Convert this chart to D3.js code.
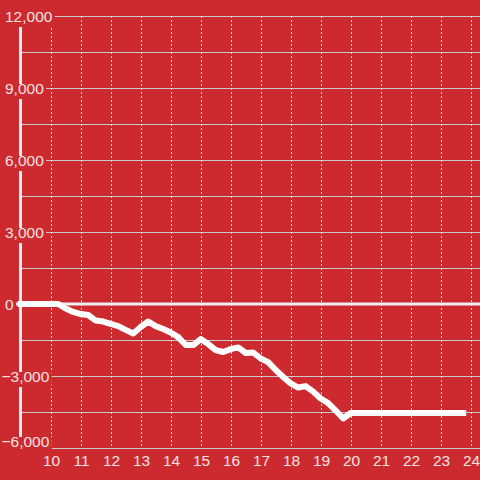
<!DOCTYPE html>
<html>
<head>
<meta charset="utf-8">
<script src="https://cdn.jsdelivr.net/npm/d3@7"></script>
<style>
    html, body { margin: 0; padding: 0; background: #cd2a30; }
    svg { display: block; font-family: "Liberation Sans", Arial, sans-serif; }
</style>
</head>
<body>
<svg id="chart" width="480" height="480"></svg>
<script>
// hours of the day (15 min steps) and running value
const hours = [9, 9.25, 9.5, 9.75, 10, 10.25, 10.5, 10.75, 11, 11.25, 11.5, 11.75,
    12, 12.25, 12.5, 12.75, 13, 13.25, 13.5, 13.75, 14, 14.25, 14.5, 14.75,
    15, 15.25, 15.5, 15.75, 16, 16.25, 16.5, 16.75, 17, 17.25, 17.5, 17.75,
    18, 18.25, 18.5, 18.75, 19, 19.25, 19.5, 19.75, 20, 20.25, 20.5, 20.75,
    21, 21.25, 21.5, 21.75, 22, 22.25, 22.5, 22.75, 23, 23.25, 23.5, 23.75];
const values = [0, 0, 0, 0, 0, 0, -190, -330, -420, -460, -690, -730,
    -830, -920, -1080, -1230, -960, -730, -920, -1040, -1190, -1380, -1710, -1710,
    -1460, -1670, -1920, -2000, -1880, -1810, -2040, -2020, -2270, -2420, -2750, -3040,
    -3310, -3480, -3420, -3650, -3940, -4130, -4440, -4770, -4540, -4540, -4540, -4540,
    -4540, -4540, -4540, -4540, -4540, -4540, -4540, -4540, -4540, -4540, -4540, -4540];
const xTicks = [10, 11, 12, 13, 14, 15, 16, 17, 18, 19, 20, 21, 22, 23, 24];
const yGrid = [-6000, -4500, -3000, -1500, 0, 1500, 3000, 4500, 6000, 7500, 9000, 10500, 12000];
const yLabels = [12000, 9000, 6000, 3000, 0, -3000, -6000];

const bg = "#cd2a30";
const svg = d3.select("#chart");

const x = d3.scaleLinear().domain([9, 24]).range([20.7, 470.7]);
const y = d3.scaleLinear().domain([-6000, 12000]).range([448, 16]);

svg.append("rect").attr("width", 480).attr("height", 480).attr("fill", bg);

// horizontal grid
svg.append("g").selectAll("line")
    .data(yGrid)
    .enter().append("line")
    .attr("x1", 20).attr("x2", 480)
    .attr("y1", d => Math.round(y(d)) + 0.5)
    .attr("y2", d => Math.round(y(d)) + 0.5)
    .attr("stroke", "#c9c9c9")
    .attr("stroke-width", 1);

// vertical dashed grid
svg.append("g").selectAll("line")
    .data(xTicks)
    .enter().append("line")
    .attr("x1", d => Math.round(x(d)) + 0.5)
    .attr("x2", d => Math.round(x(d)) + 0.5)
    .attr("y1", y(12000)).attr("y2", y(-6000))
    .attr("stroke", "#dddddd")
    .attr("stroke-width", 1)
    .attr("stroke-dasharray", "2,2");

// zero line
svg.append("line")
    .attr("x1", 14).attr("x2", 480)
    .attr("y1", y(0)).attr("y2", y(0))
    .attr("stroke", "#eeeeee")
    .attr("stroke-width", 3);

// y axis line
svg.append("line")
    .attr("x1", 20.5).attr("x2", 20.5)
    .attr("y1", y(12000)).attr("y2", y(-6000))
    .attr("stroke", "#eeeeee")
    .attr("stroke-width", 3);

// y labels, each with a patch of background behind it
const fmt = d3.format(",");
const yl = svg.append("g").selectAll("g")
    .data(yLabels)
    .enter().append("g");

yl.append("text")
    .attr("x", d => d < 0 ? 1.5 : 5)
    .attr("y", d => d === -6000 ? y(d) - 1 : y(d) + 6)
    .attr("fill", "#f3e3e3")
    .style("font-size", "15.5px")
    .text(d => fmt(d));

yl.each(function() {
    const t = d3.select(this).select("text");
    const bb = t.node().getBBox();
    d3.select(this).insert("rect", "text")
        .attr("x", bb.x - 2)
        .attr("y", bb.y + 4)
        .attr("width", bb.width + 4)
        .attr("height", bb.height - 2)
        .attr("fill", bg);
});

// x labels
svg.append("g").selectAll("text")
    .data(xTicks)
    .enter().append("text")
    .attr("x", d => x(d) + 0.8)
    .attr("y", 466)
    .attr("text-anchor", "middle")
    .attr("fill", "#f3e3e3")
    .style("font-size", "15.5px")
    .text(d => d);

// the series
const line = d3.line()
    .x((d, i) => x(hours[i]))
    .y(d => y(d));

svg.append("path")
    .datum(values)
    .attr("d", line)
    .attr("fill", "none")
    .attr("stroke", "#ffffff")
    .attr("stroke-width", 6)
    .attr("stroke-linejoin", "round")
    .attr("stroke-linecap", "square");
</script>
</body>
</html>
